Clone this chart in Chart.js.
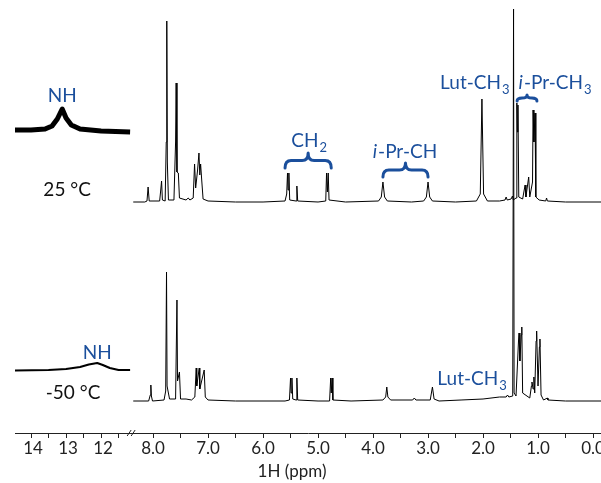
<!DOCTYPE html>
<html>
<head>
<meta charset="utf-8">
<script src="https://cdn.jsdelivr.net/npm/chart.js@4.4.1/dist/chart.umd.min.js"></script>
<style>
  html, body { margin: 0; padding: 0; background: #fff; }
</style>
</head>
<body>
<canvas id="nmr" width="601" height="483"></canvas>
<script>
/* =======================
   Spectrum data (ppm / intensity above baseline)
======================= */
const rt25Ppm = [8.36, 8.15, 8.11, 8.09, 8.07, 7.88, 7.86, 7.845, 7.83, 7.78, 7.76, 7.75, 7.74, 7.72,
  7.62, 7.59, 7.58, 7.565, 7.54, 7.52, 7.40, 7.36, 7.33, 7.27, 7.245, 7.225, 7.19, 7.165, 7.15, 7.135,
  7.115, 7.09, 7.0, 6.5, 6.0, 5.6, 5.57, 5.555, 5.545, 5.53, 5.515, 5.40, 5.385, 5.37, 5.0, 4.86, 4.845,
  4.83, 4.815, 4.80, 4.5, 3.90, 3.85, 3.82, 3.79, 3.74, 3.3, 3.08, 3.03, 3.00, 2.97, 2.92, 2.5, 2.12,
  2.05, 2.02, 1.99, 1.92, 1.70, 1.60, 1.58, 1.56, 1.49, 1.465, 1.45, 1.40, 1.385, 1.375, 1.365,
  1.35, 1.28, 1.235, 1.22, 1.17, 1.15, 1.10, 1.09, 1.075, 1.055, 1.04, 0.98, 0.86, 0.845, 0.83, 0.5, -0.15];
const rt25Int = [0, 0, 1, 15, 1, 1, 12, 21, 2, 1, 60, 181, 40, 2,
  2, 60, 119, 30, 29, 4, 2, 4, 2, 4, 38, 14, 32, 49, 27, 38,
  22, 3, 1, 0, 0, 1, 8, 29, 12, 29, 2, 1, 16, 1, 0, 1, 29,
  10, 29, 2, 0, 1, 5, 20, 5, 1, 0, 1, 5, 20, 5, 1, 0, 1,
  8, 103, 8, 1, 1, 2, 5, 2, 3, 6, 2, 4, 99, 70, 97,
  5, 3, 17, 5, 25, 5, 20, 92, 60, 89, 5, 2, 1, 4, 1, 0, 0];

const lt50Ppm = [8.36, 8.08, 8.05, 8.04, 8.03, 8.01, 7.80, 7.77, 7.755, 7.745, 7.70, 7.59, 7.565, 7.555,
  7.52, 7.50, 7.40, 7.30, 7.24, 7.215, 7.205, 7.16, 7.15, 7.07, 7.05, 7.0, 6.5, 5.6, 5.52, 5.50, 5.49,
  5.475, 5.46, 5.40, 5.385, 5.37, 5.0, 4.79, 4.77, 4.76, 4.745, 4.73, 4.4, 3.82, 3.77, 3.75, 3.73, 3.68,
  3.28, 3.25, 3.22, 2.96, 2.92, 2.89, 2.8, 2.4, 2.0, 1.7, 1.58, 1.555, 1.53, 1.46, 1.445, 1.435, 1.40,
  1.355, 1.345, 1.33, 1.305, 1.295, 1.28, 1.15, 1.12, 1.11, 1.09, 1.075, 1.06, 1.035, 1.025, 1.00, 0.975,
  0.965, 0.945, 0.90, 0.83, 0.82, 0.5, -0.15];
const lt50Int = [0, 0, 6, 16, 5, 0, 1, 10, 129, 15, 2, 2, 101, 20,
  29, 2, 2, 1, 4, 33, 15, 33, 12, 31, 4, 1, 0, 0, 1, 23, 8,
  23, 2, 1, 23, 1, 0, 0, 23, 8, 23, 1, 0, 1, 4, 14, 4, 1,
  1, 3, 1, 1, 14, 2, 0, 1, 2, 4, 4, 6, 4, 5, 392, 8, 5,
  60, 68, 40, 66, 74, 8, 3, 15, 19, 12, 24, 8, 60, 70, 15, 54,
  62, 6, 1, 3, 1, 0, 0];

// NH insets (broken-axis section, 14.5 - 11 ppm)
const nh25Ppm = [14.46, 14.0, 13.6, 13.4, 13.25, 13.11, 13.0, 12.85, 12.6, 12.0, 11.17];
const nh25Int = [0, 0, 1, 4, 11, 21, 12, 5, 1, -1, -2];
const nh50Ppm = [14.46, 13.5, 13.0, 12.6, 12.35, 12.11, 11.95, 11.75, 11.5, 11.17];
const nh50Int = [-0.5, 0, 1, 3, 5.5, 7, 5, 2, 0, 0];

// Tick positions (ppm)
const rightTicks = [0, 0.5, 1, 1.5, 2, 2.5, 3, 3.5, 4, 4.5, 5, 5.5, 6, 6.5, 7, 7.5, 8];
const leftTicks = [11.5, 12, 12.5, 13, 13.5, 14];

/* =======================
   Broken axis helpers
======================= */
const LEFT_SCALE = 35 / 55;   // left section is compressed
const LEFT_ANCHOR = 10.218;   // axis position of 14 ppm
function toAxis(ppm) {
  return ppm > 10 ? LEFT_ANCHOR - (14 - ppm) * LEFT_SCALE : ppm;
}
function series(ppm, vals, base) {
  return ppm.map((p, i) => ({ x: toAxis(p), y: vals[i] + base }));
}

const BLUE = "#1b4f9c";
const INK = "#222";

const notes = [
  { t: "NH", ppm: 13.11, y: 338, c: BLUE },
  { t: "NH", ppm: 12.11, y: 81, c: BLUE },
  { t: "25 °C", ppm: 12.97, y: 244, c: "#111" },
  { t: "-50 °C", ppm: 12.8, y: 41, c: "#111" },
  { t: "CH", sub: "2", ppm: 5.16, y: 293, c: BLUE },
  { it: "i", t: "-Pr-CH", ppm: 3.42, y: 282, c: BLUE },
  { t: "Lut-CH", sub: "3", ppm: 2.15, y: 351, c: BLUE },
  { it: "i", t: "-Pr-CH", sub: "3", ppm: 0.69, y: 351, c: BLUE },
  { t: "Lut-CH", sub: "3", ppm: 2.2, y: 55, c: BLUE }
];
const braces = [
  { from: 5.6, to: 4.76, top: 280, bot: 265 },
  { from: 3.82, to: 3.0, top: 270, bot: 256 },
  { from: 1.38, to: 1.02, top: 338, bot: 332 }
];

/* =======================
   Overlay plugin: labels, braces, axis text
======================= */
const overlay = {
  id: "overlay",
  afterDraw(chart) {
    const { ctx, scales } = chart;
    const xs = scales.x, ys = scales.y;
    const px = p => xs.getPixelForValue(toAxis(p));
    const axisY = chart.chartArea.bottom;
    ctx.save();

    // tick labels
    ctx.fillStyle = INK;
    ctx.font = "17px Lato";
    ctx.textAlign = "center";
    ctx.textBaseline = "middle";
    rightTicks.filter(t => t % 1 === 0).forEach(t => ctx.fillText(t.toFixed(1), px(t), axisY + 16));
    leftTicks.filter(t => t % 1 === 0).forEach(t => ctx.fillText(String(t), px(t) + 2, axisY + 16));
    ctx.fillText("1H (ppm)", 292, axisY + 39);

    // axis break mark
    const bx = xs.getPixelForValue(8.38);
    ctx.strokeStyle = INK;
    ctx.lineWidth = 1;
    ctx.beginPath();
    ctx.moveTo(bx - 5, axisY + 3); ctx.lineTo(bx - 1, axisY - 3);
    ctx.moveTo(bx - 1, axisY + 3); ctx.lineTo(bx + 3, axisY - 3);
    ctx.stroke();

    // labels
    notes.forEach(n => {
      const size = 19;
      const fN = size + "px Lato", fI = "italic " + size + "px Lato", fS = "13px Lato";
      ctx.font = fI; const wI = n.it ? ctx.measureText(n.it).width + 1 : 0;
      ctx.font = fN; const wT = ctx.measureText(n.t).width;
      ctx.font = fS; const wS = n.sub ? ctx.measureText(n.sub).width + 1 : 0;
      let x = px(n.ppm) - (wI + wT + wS) / 2;
      const base = ys.getPixelForValue(n.y) + size * 0.36;
      ctx.fillStyle = n.c;
      ctx.textAlign = "left";
      ctx.textBaseline = "alphabetic";
      if (n.it) { ctx.font = fI; ctx.fillText(n.it, x, base); x += wI; }
      ctx.font = fN; ctx.fillText(n.t, x, base); x += wT;
      if (n.sub) { ctx.font = fS; ctx.fillText(n.sub, x + 1, base + 5); }
    });

    // curly braces
    ctx.strokeStyle = BLUE;
    ctx.lineWidth = 3;
    ctx.lineCap = "round";
    ctx.lineJoin = "round";
    braces.forEach(b => {
      const x1 = px(b.from), x2 = px(b.to);
      const yT = ys.getPixelForValue(b.top), yB = ys.getPixelForValue(b.bot);
      const ym = (yT + yB) / 2, xm = (x1 + x2) / 2;
      const r = Math.min(6, (x2 - x1) / 4);
      ctx.beginPath();
      ctx.moveTo(x1, yB);
      ctx.quadraticCurveTo(x1, ym, x1 + r, ym);
      ctx.lineTo(xm - r, ym);
      ctx.quadraticCurveTo(xm, ym, xm, yT);
      ctx.quadraticCurveTo(xm, ym, xm + r, ym);
      ctx.lineTo(x2 - r, ym);
      ctx.quadraticCurveTo(x2, ym, x2, yB);
      ctx.stroke();
    });
    ctx.restore();
  }
};

/* =======================
   Chart
======================= */
const TOP_BASE = 231, LOW_BASE = 32, NH25_BASE = 303, NH50_BASE = 63;
const lineStyle = { borderColor: "#000", borderWidth: 1, pointRadius: 0, fill: false, tension: 0, borderJoinStyle: "round" };

new Chart(document.getElementById("nmr").getContext("2d"), {
  type: "line",
  data: {
    datasets: [
      { ...lineStyle, label: "25 °C", data: series(rt25Ppm, rt25Int, TOP_BASE) },
      { ...lineStyle, label: "-50 °C", data: series(lt50Ppm, lt50Int, LOW_BASE) },
      { ...lineStyle, label: "NH 25 °C", borderWidth: 5, data: series(nh25Ppm, nh25Int, NH25_BASE) },
      { ...lineStyle, label: "NH -50 °C", borderWidth: 2.2, data: series(nh50Ppm, nh50Int, NH50_BASE) }
    ]
  },
  options: {
    responsive: false,
    animation: false,
    devicePixelRatio: 1,
    layout: { padding: { left: 15, right: 0, top: 8, bottom: 45 } },
    plugins: { legend: { display: false }, tooltip: { enabled: false } },
    scales: {
      x: {
        type: "linear",
        reverse: true,
        min: -0.145,
        max: 10.51,
        afterBuildTicks: s => {
          s.ticks = rightTicks.concat(leftTicks).map(t => ({ value: toAxis(t) }));
        },
        ticks: { display: false },
        grid: { display: true, drawOnChartArea: false, drawTicks: true, tickLength: 5, color: INK, lineWidth: 1 },
        border: { display: true, color: INK, width: 1 }
      },
      y: { display: false, min: 0, max: 425 }
    }
  },
  plugins: [overlay]
});
</script>
</body>
</html>
